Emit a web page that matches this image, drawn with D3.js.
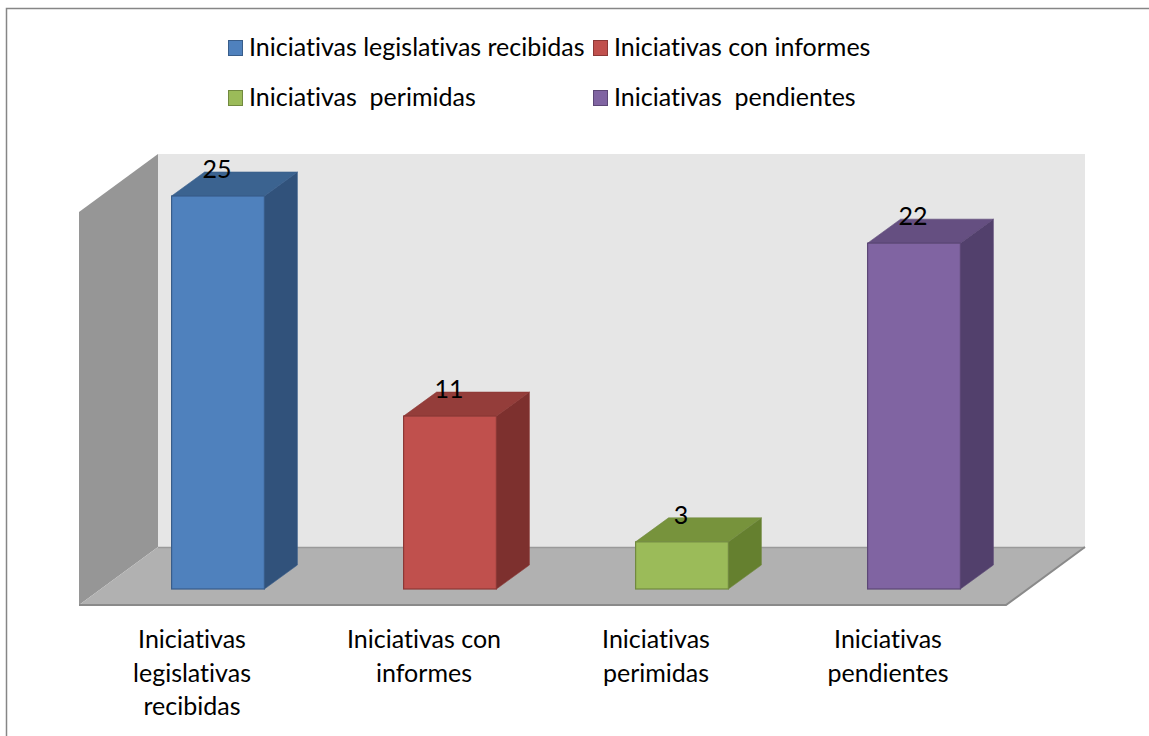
<!DOCTYPE html>
<meta charset="utf-8">
<script src="https://d3js.org/d3.v7.min.js"></script>
<style>
  body { margin: 0; background: #fff; }
  text { font-family: Lato, "Open Sans", sans-serif; fill: #000; font-variant-ligatures: none; }
</style>
<body>
<div id="chart"></div>
<script>

// data
var categories = ["Iniciativas legislativas recibidas", "Iniciativas con informes", "Iniciativas  perimidas", "Iniciativas  pendientes"];
var axisLabels = [["Iniciativas", "legislativas", "recibidas"], ["Iniciativas con", "informes"], ["Iniciativas", "perimidas"], ["Iniciativas", "pendientes"]];
var values = [25, 11, 3, 22];
var fronts = ["#4f81bd", "#c0504d", "#9bbb59", "#8064a2"];
var tops = ["#3b6390", "#943d3a", "#77933c", "#654f81"];
var sides = ["#31527b", "#7d302e", "#65802f", "#52406c"];
var edges = ["#385d8a", "#8c3836", "#71893f", "#5c4776"];

var width = 1149, height = 736;

var svg = d3.select("#chart").append("svg")
    .attr("width", width)
    .attr("height", height);

// outer chart border
svg.append("rect")
    .attr("x", 6.5).attr("y", 8.5)
    .attr("width", 1160).attr("height", 760)
    .attr("fill", "#fff")
    .attr("stroke", "#868686")
    .attr("stroke-width", 1.5);

// scales
var x = d3.scaleBand()
    .domain(categories)
    .range([102, 1030])
    .paddingInner(0.6)
    .paddingOuter(0.3);

var y = d3.scaleLinear()
    .domain([0, 25])
    .range([589, 196]);

// depth of the bars and of the walls
var bdx = 33, bdy = -24;
var wallLeft = 79, wallRight = 1085, wallDx = 79, wallDy = -58;
var floorFront = 605;
var backBottom = floorFront + wallDy;
var backTop = y(25) - 42;

// back wall
svg.append("polygon")
    .attr("points", [[wallLeft + wallDx, backTop], [wallRight, backTop], [wallRight, backBottom], [wallLeft + wallDx, backBottom]].join(" "))
    .attr("fill", "#e6e6e6");

// left wall
svg.append("polygon")
    .attr("points", [[wallLeft, backTop - wallDy], [wallLeft + wallDx, backTop], [wallLeft + wallDx, backBottom], [wallLeft, floorFront]].join(" "))
    .attr("fill", "#969696");

// floor
svg.append("polygon")
    .attr("points", [[wallLeft + wallDx, backBottom], [wallRight, backBottom], [wallRight - wallDx, floorFront], [wallLeft, floorFront]].join(" "))
    .attr("fill", "#b1b1b1");

svg.append("line")
    .attr("x1", wallLeft + wallDx).attr("x2", wallRight)
    .attr("y1", backBottom + 0.5).attr("y2", backBottom + 0.5)
    .attr("stroke", "#9a9a9a").attr("stroke-width", 1.5);

svg.append("polyline")
    .attr("points", [[wallLeft, floorFront], [wallRight - wallDx, floorFront], [wallRight, backBottom]].join(" "))
    .attr("fill", "none")
    .attr("stroke", "#8a8a8a")
    .attr("stroke-width", 2);

// bars
var bars = svg.append("g").selectAll("g")
    .data(categories)
    .enter().append("g");

bars.append("polygon") // right side
    .attr("points", function(d, i) {
      var x1 = x(d) + x.bandwidth(), y0 = y(0), y1 = y(values[i]);
      return [[x1, y1], [x1 + bdx, y1 + bdy], [x1 + bdx, y0 + bdy], [x1, y0]].join(" ");
    })
    .attr("fill", function(d, i) { return sides[i]; })
    .attr("stroke", function(d, i) { return edges[i]; })
    .attr("stroke-opacity", 0.6);

bars.append("polygon") // top
    .attr("points", function(d, i) {
      var x0 = x(d), x1 = x(d) + x.bandwidth(), y1 = y(values[i]);
      return [[x0, y1], [x0 + bdx, y1 + bdy], [x1 + bdx, y1 + bdy], [x1, y1]].join(" ");
    })
    .attr("fill", function(d, i) { return tops[i]; })
    .attr("stroke", function(d, i) { return edges[i]; })
    .attr("stroke-opacity", 0.6);

bars.append("rect") // front
    .attr("x", function(d) { return x(d); })
    .attr("y", function(d, i) { return y(values[i]); })
    .attr("width", x.bandwidth())
    .attr("height", function(d, i) { return y(0) - y(values[i]); })
    .attr("fill", function(d, i) { return fronts[i]; })
    .attr("stroke", function(d, i) { return edges[i]; })
    .attr("stroke-width", 1.2);

// value labels
bars.append("text")
    .attr("x", function(d) { return x(d) + x.bandwidth() / 2 - 1; })
    .attr("y", function(d, i) { return y(values[i]) + bdy + 6; })
    .attr("text-anchor", "middle")
    .attr("font-size", "25px")
    .text(function(d, i) { return values[i]; });

// category labels
var cat = svg.append("g").selectAll("text")
    .data(categories)
    .enter().append("text")
    .attr("text-anchor", "middle")
    .attr("font-size", "25px");

cat.selectAll("tspan")
    .data(function(d, i) { return axisLabels[i].map(function(t) { return {t: t, c: d}; }); })
    .enter().append("tspan")
    .attr("x", function(d) { return x(d.c) + x.bandwidth() / 2 - 26; })
    .attr("y", function(d, j) { return 648 + j * 33.5; })
    .text(function(d) { return d.t; });

// legend
var legendX = [228, 593], legendY = [40, 90];
var leg = svg.append("g").selectAll("g")
    .data(categories)
    .enter().append("g")
    .attr("transform", function(d, i) { return "translate(" + legendX[i % 2] + "," + legendY[Math.floor(i / 2)] + ")"; });

leg.append("rect")
    .attr("x", 0.5).attr("y", 0.5)
    .attr("width", 14).attr("height", 15)
    .attr("fill", function(d, i) { return fronts[i]; })
    .attr("stroke", function(d, i) { return edges[i]; });

leg.append("text")
    .attr("x", 21)
    .attr("y", 16)
    .attr("font-size", "25px")
    .style("white-space", "pre")
    .text(function(d) { return d; });

</script>
</body>
